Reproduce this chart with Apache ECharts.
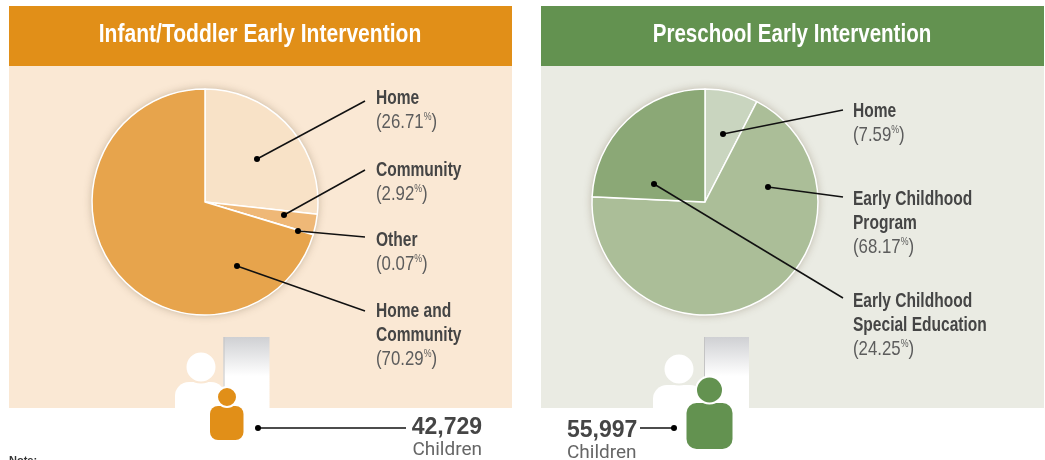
<!DOCTYPE html>
<html lang="en">
<head>
    <meta charset="UTF-8">
    <title>Early Intervention Settings</title>
    <script src="https://cdn.jsdelivr.net/npm/echarts@6/dist/echarts.min.js"></script>
    <style>
        html, body { margin: 0; padding: 0; background: #fff; overflow: hidden; }
        #chart { width: 1045px; height: 460px; }
    </style>
</head>
<body>
<div id="chart"></div>
<script>
    // data
    const infantTitle = 'Infant/Toddler Early Intervention';
    const infantNames = ['Home', 'Community', 'Other', 'Home and Community'];
    const infantValues = [26.71, 2.92, 0.07, 70.29];
    const infantTotal = '42,729';

    const preschoolTitle = 'Preschool Early Intervention';
    const preschoolNames = ['Home', 'Early Childhood Program', 'Early Childhood Special Education'];
    const preschoolValues = [7.59, 68.17, 24.25];
    const preschoolTotal = '55,997';

    const countUnit = 'Children';
    const noteText = 'Note:';

    // label line breaks, same order as the names above
    const infantLabelLines = [['Home'], ['Community'], ['Other'], ['Home and', 'Community']];
    const preschoolLabelLines = [['Home'], ['Early Childhood', 'Program'], ['Early Childhood', 'Special Education']];

    // colours
    const infantColors = ['#f8e2c7', '#efb877', '#efb877', '#e7a44c'];
    const preschoolColors = ['#c9d5bf', '#abbe98', '#8ba876'];

    // leader lines [dotX, dotY, endX, endY], first text line centre y
    const infantLeaders = [[257, 159, 365, 101], [284, 215, 365, 170], [298, 231, 365, 237], [237, 266, 365, 311]];
    const infantLabelY = [98, 170, 240, 311];
    const preschoolLeaders = [[723, 134, 843, 110], [768, 187, 843, 197], [654, 184, 843, 298]];
    const preschoolLabelY = [111, 199, 301];

    const darkText = '#454545';
    const sans = '"Liberation Sans", sans-serif';
    const lineH = 24;

    function rect(x, y, w, h, fill, z, r) {
        return {type: 'rect', z: z, silent: true, shape: {x: x, y: y, width: w, height: h, r: r || 0}, style: {fill: fill}};
    }

    function circle(cx, cy, r, fill, z, stroke, lw) {
        return {type: 'circle', z: z, silent: true, shape: {cx: cx, cy: cy, r: r},
            style: {fill: fill, stroke: stroke || null, lineWidth: lw || 0}};
    }

    function leader(l) {
        return [
            {type: 'line', z: 20, silent: true, shape: {x1: l[0], y1: l[1], x2: l[2], y2: l[3]}, style: {stroke: '#111', lineWidth: 1.5}},
            circle(l[0], l[1], 3, '#000', 21)
        ];
    }

    // bold name lines followed by the light percent line, squeezed to look condensed
    function sliceLabel(x, y, lines, value) {
        const out = [];
        lines.forEach((t, i) => {
            out.push({type: 'text', z: 20, silent: true, x: x, y: y + i * lineH, scaleX: 0.74,
                style: {text: t, font: 'bold 21px ' + sans, fill: darkText, textVerticalAlign: 'middle'}});
        });
        out.push({type: 'text', z: 20, silent: true, x: x, y: y + lines.length * lineH, scaleX: 0.8,
            style: {
                text: '{v|(' + value.toFixed(2) + '}{s|%}{v|)}',
                textVerticalAlign: 'middle',
                rich: {
                    v: {font: '21px ' + sans, fill: '#5c5c5c'},
                    s: {font: '11px ' + sans, fill: '#5c5c5c', verticalAlign: 'top'}
                }
            }});
        return out;
    }

    function panel(x, title, bg, head, cx, squeeze) {
        return [
            rect(x, 6, 503, 60, head, 0),
            rect(x, 66, 503, 342, bg, 0),
            {type: 'circle', z: 1, silent: true, shape: {cx: cx, cy: 202, r: 113},
                style: {fill: '#fff', shadowBlur: 8, shadowColor: 'rgba(90,70,40,0.35)'}},
            {type: 'text', z: 20, silent: true, x: x + 251, y: 35, scaleX: squeeze,
                style: {text: title, font: 'bold 26px ' + sans, fill: '#fff', textAlign: 'center', textVerticalAlign: 'middle'}}
        ];
    }

    function column(x, w) {
        return [
            rect(x, 337, w, 71, {type: 'linear', x: 0, y: 0, x2: 0, y2: 1,
                colorStops: [{offset: 0, color: '#cfd0d3'}, {offset: 0.55, color: '#fff'}, {offset: 1, color: '#fff'}]}, 3),
            {type: 'line', z: 4, silent: true, shape: {x1: x + 0.5, y1: 337, x2: x + 0.5, y2: 392}, style: {stroke: '#c4c4c4', lineWidth: 1}}
        ];
    }

    function person(cx, headY, headR, bodyX, bodyY, bodyW, bodyH, r, color, z, ring) {
        return [
            rect(bodyX, bodyY, bodyW, bodyH, color, z, r),
            circle(cx, headY, headR, color, z + 1, ring, 2)
        ];
    }

    function countText(x, y, text, font, fill, align) {
        return {type: 'text', z: 20, silent: true, x: x, y: y,
            style: {text: text, font: font, fill: fill, textAlign: align, textVerticalAlign: 'middle'}};
    }

    const graphics = [].concat(
        panel(9, infantTitle, '#fae8d4', '#e18f18', 205, 0.81),
        panel(541, preschoolTitle, '#eaebe3', '#639250', 705, 0.79),
        column(223.5, 46),
        column(704, 45),
        // white people behind
        person(201, 367, 15.5, 175, 382, 50, 26, [14, 14, 0, 0], '#fff', 5, '#fae8d4'),
        person(679, 369, 15.5, 653, 385, 51, 23, [14, 14, 0, 0], '#fff', 5, '#eaebe3'),
        // coloured people
        person(227, 397, 10, 210, 406, 33.5, 34, 8, '#e18f18', 8, '#fff'),
        person(709.5, 390, 13.5, 686.5, 403, 46, 46, 10, '#639250', 8, '#fff'),
        infantLeaders.flatMap(leader),
        preschoolLeaders.flatMap(leader),
        infantLabelLines.flatMap((lines, i) => sliceLabel(376, infantLabelY[i], lines, infantValues[i])),
        preschoolLabelLines.flatMap((lines, i) => sliceLabel(853, preschoolLabelY[i], lines, preschoolValues[i])),
        leader([258, 428, 406, 428]),
        leader([674, 428, 640, 428]),
        [
            countText(482, 428, infantTotal, 'bold 23px ' + sans, darkText, 'right'),
            countText(482, 450, countUnit, '19px Roboto, sans-serif', '#666', 'right'),
            countText(567, 431, preschoolTotal, 'bold 23px ' + sans, darkText, 'left'),
            countText(567, 453, countUnit, '19px Roboto, sans-serif', '#666', 'left'),
            countText(9, 461, noteText, 'bold 11px ' + sans, '#333', 'left')
        ]
    );

    function pieSeries(names, values, colors, cx) {
        return {
            type: 'pie',
            z: 2,
            silent: true,
            animation: false,
            center: [cx, 202],
            radius: [0, 113],
            startAngle: 90,
            clockwise: true,
            avoidLabelOverlap: false,
            label: {show: false},
            labelLine: {show: false},
            itemStyle: {borderColor: '#fff', borderWidth: 1.5},
            data: names.map((n, i) => ({name: n, value: values[i], itemStyle: {color: colors[i]}}))
        };
    }

    const chart = echarts.init(document.getElementById('chart'), null, {renderer: 'canvas'});
    chart.setOption({
        animation: false,
        backgroundColor: '#fff',
        graphic: {elements: graphics},
        series: [
            pieSeries(infantNames, infantValues, infantColors, 205),
            pieSeries(preschoolNames, preschoolValues, preschoolColors, 705)
        ]
    });
</script>
</body>
</html>
